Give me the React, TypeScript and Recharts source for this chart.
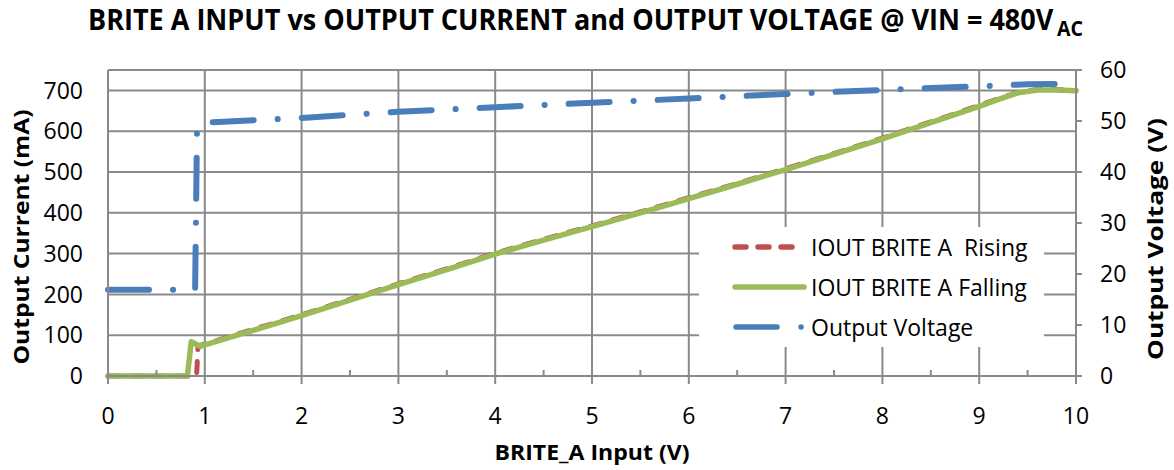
import { ComposedChart, Line, XAxis, YAxis, CartesianGrid, Legend } from 'recharts';

const WIDTH = 1174;
const HEIGHT = 470;
const PLOT_LEFT = 108;
const PLOT_RIGHT = 1076;
const PLOT_TOP = 70;
const PLOT_BOTTOM = 376;
const FONT = "'Open Sans', sans-serif";
const GRID = '#8a8a8a';

const RED = '#c0504d';
const GREEN = '#9bbb59';
const BLUE = '#4a7ebb';

// axis ticks
const xTicks = [0, 1, 2, 3, 4, 5, 6, 7, 8, 9, 10];
const currentTicks = [0, 100, 200, 300, 400, 500, 600, 700];
const voltageTicks = [0, 10, 20, 30, 40, 50, 60];

// IOUT rising sweep (mA)
const risingInput = [0, 0.5, 0.9, 0.915, 0.93, 1, 1.5, 2, 2.5, 3, 3.5, 4, 4.5, 5, 5.5, 6, 6.5, 7, 7.5, 8, 8.5, 9, 9.2, 9.4, 9.6, 9.8, 10];
const risingCurrent = [0, 0, 0, 0, 74, 78, 114, 150, 188, 226, 263, 301, 335, 368, 402, 437, 472, 508, 545, 583, 623, 663, 680, 695, 702, 702, 700];

// IOUT falling sweep (mA)
const fallingInput = [0, 0.5, 0.82, 0.86, 0.95, 1, 1.5, 2, 2.5, 3, 3.5, 4, 4.5, 5, 5.5, 6, 6.5, 7, 7.5, 8, 8.5, 9, 9.2, 9.4, 9.6, 9.8, 10];
const fallingCurrent = [0, 0, 0, 84, 73, 76, 112, 148, 186, 224, 261, 299, 333, 366, 400, 435, 470, 506, 543, 581, 621, 661, 678, 694, 701, 701, 699];

// output voltage (V)
const voltageInput = [0, 0.5, 0.9, 0.92, 1, 2, 3, 4, 5, 6, 7, 8, 9, 9.5, 10];
const outputVoltage = [16.9, 16.9, 16.9, 49, 49.7, 50.6, 51.8, 52.7, 53.6, 54.4, 55.3, 56.1, 56.8, 57.2, 57.3];

const NAME_RISING = 'IOUT BRITE A  Rising';
const NAME_FALLING = 'IOUT BRITE A Falling';
const NAME_VOLTAGE = 'Output Voltage';

const risingData = risingInput.map((x, i) => ({ input: x, current: risingCurrent[i] }));
const fallingData = fallingInput.map((x, i) => ({ input: x, current: fallingCurrent[i] }));
const voltageData = voltageInput.map((x, i) => ({ input: x, voltage: outputVoltage[i] }));

// bottom ticks: label + minor tick half way to the next one
const XTick = (props: any) => {
  const { x, y, payload } = props;
  const half = (PLOT_RIGHT - PLOT_LEFT) / (xTicks.length - 1) / 2;
  return (
    <g>
      <text x={x} y={y} dy="0.71em" textAnchor="middle" fill="#000" fontSize={23} fontFamily={FONT}>
        {payload.value}
      </text>
      {payload.value < xTicks[xTicks.length - 1] && (
        <line x1={x + half} x2={x + half} y1={PLOT_BOTTOM - 6} y2={PLOT_BOTTOM} stroke={GRID} strokeWidth={2} />
      )}
    </g>
  );
};

const legendItems = [
  { name: NAME_RISING, color: RED, kind: 'dash' },
  { name: NAME_FALLING, color: GREEN, kind: 'solid' },
  { name: NAME_VOLTAGE, color: BLUE, kind: 'dashdot' },
];

const renderLegend = () => (
  <div>
    {legendItems.map((item) => (
      <div key={item.name} style={{ display: 'flex', alignItems: 'center', height: 40 }}>
        <svg width={112} height={40} style={{ flex: 'none' }}>
          {item.kind === 'dash' && (
            <line x1={36} x2={98} y1={20} y2={20} stroke={item.color} strokeWidth={5.5} strokeDasharray="11 12" strokeLinecap="round" />
          )}
          {item.kind === 'solid' && (
            <line x1={36} x2={105} y1={20} y2={20} stroke={item.color} strokeWidth={5.5} strokeLinecap="round" />
          )}
          {item.kind === 'dashdot' && (
            <line x1={37} x2={102.5} y1={20} y2={20} stroke={item.color} strokeWidth={5.5} strokeDasharray="41 24 0.1 24" strokeLinecap="round" />
          )}
        </svg>
        <span style={{ fontFamily: FONT, fontSize: 23, color: '#000', whiteSpace: 'pre', lineHeight: '40px' }}>{item.name}</span>
      </div>
    ))}
  </div>
);

export default function App() {
  const tickStyle = { fill: '#000', fontSize: 23, fontFamily: FONT };
  return (
    <div style={{ position: 'absolute', left: 0, top: 0, width: WIDTH, height: HEIGHT, background: '#fff' }}>
      <ComposedChart
        width={WIDTH}
        height={HEIGHT}
        margin={{ top: PLOT_TOP, right: WIDTH - PLOT_RIGHT - 60, bottom: HEIGHT - PLOT_BOTTOM - 40, left: PLOT_LEFT - 60 }}
      >
        <CartesianGrid xAxisId="bottom" yAxisId="left" stroke={GRID} strokeWidth={2} />
        <XAxis
          xAxisId="bottom"
          dataKey="input"
          type="number"
          domain={[0, 10]}
          ticks={xTicks}
          height={40}
          tickSize={8}
          tickMargin={24}
          tick={<XTick />}
          tickLine={{ stroke: GRID, strokeWidth: 2 }}
          axisLine={{ stroke: GRID, strokeWidth: 2 }}
          allowDuplicatedCategory={false}
        />
        <XAxis
          xAxisId="top"
          orientation="top"
          type="number"
          domain={[0, 10]}
          height={0}
          tick={false}
          tickLine={false}
          axisLine={{ stroke: '#7a7a7a', strokeWidth: 2.5 }}
        />
        <YAxis
          yAxisId="left"
          type="number"
          domain={[0, 750]}
          ticks={currentTicks}
          width={60}
          tickLine={false}
          tickSize={0}
          tickMargin={25}
          tick={tickStyle}
          axisLine={{ stroke: GRID, strokeWidth: 2 }}
        />
        <YAxis
          yAxisId="right"
          orientation="right"
          type="number"
          domain={[0, 60]}
          ticks={voltageTicks}
          width={60}
          tickSize={6}
          tickMargin={18}
          tick={tickStyle}
          tickLine={{ stroke: GRID, strokeWidth: 2 }}
          axisLine={{ stroke: GRID, strokeWidth: 2 }}
        />
        <Line
          xAxisId="bottom"
          yAxisId="left"
          data={risingData}
          dataKey="current"
          name={NAME_RISING}
          type="linear"
          stroke={RED}
          strokeWidth={5}
          strokeDasharray="11 12"
          strokeLinecap="round"
          dot={false}
          activeDot={false}
          isAnimationActive={false}
        />
        <Line
          xAxisId="bottom"
          yAxisId="left"
          data={fallingData}
          dataKey="current"
          name={NAME_FALLING}
          type="linear"
          stroke={GREEN}
          strokeWidth={5.5}
          strokeLinecap="round"
          strokeLinejoin="round"
          dot={false}
          activeDot={false}
          isAnimationActive={false}
        />
        <Line
          xAxisId="bottom"
          yAxisId="right"
          data={voltageData}
          dataKey="voltage"
          name={NAME_VOLTAGE}
          type="linear"
          stroke={BLUE}
          strokeWidth={6}
          strokeDasharray="41 24 0.1 24"
          strokeLinecap="round"
          strokeLinejoin="round"
          dot={false}
          activeDot={false}
          isAnimationActive={false}
        />
        <Legend
          layout="vertical"
          align="center"
          verticalAlign="middle"
          content={renderLegend}
          wrapperStyle={{ left: 699, top: 227, width: 345, height: 120, background: '#fff', margin: 0 }}
        />
      </ComposedChart>
      <svg width={WIDTH} height={HEIGHT} style={{ position: 'absolute', left: 0, top: 0, pointerEvents: 'none' }}>
        <text x={88} y={29.5} fontFamily={FONT} fontWeight="bold" fontSize={29} textLength={995} lengthAdjust="spacingAndGlyphs" fill="#000">
          BRITE A INPUT vs OUTPUT CURRENT and OUTPUT VOLTAGE @ VIN = 480V
          <tspan dx={4} dy={6.5} fontSize={21}>AC</tspan>
        </text>
        <text x={592} y={460} textAnchor="middle" fontFamily={FONT} fontWeight="bold" fontSize={22} textLength={195} lengthAdjust="spacingAndGlyphs" fill="#000">
          BRITE_A Input (V)
        </text>
        <text x={29} y={237} transform="rotate(-90 29 237)" textAnchor="middle" fontFamily={FONT} fontWeight="bold" fontSize={22} textLength={255} lengthAdjust="spacingAndGlyphs" fill="#000">
          Output Current (mA)
        </text>
        <text x={1163} y={239} transform="rotate(-90 1163 239)" textAnchor="middle" fontFamily={FONT} fontWeight="bold" fontSize={22} textLength={242} lengthAdjust="spacingAndGlyphs" fill="#000">
          Output Voltage (V)
        </text>
      </svg>
    </div>
  );
}
